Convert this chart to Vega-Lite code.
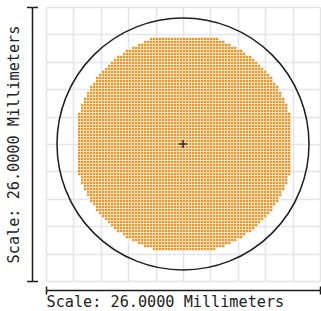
{
  "$schema": "https://vega.github.io/schema/vega-lite/v6.json",
  "width": 274,
  "height": 274,
  "autosize": {"type": "none"},
  "padding": {"left": 46, "top": 7, "right": 1, "bottom": 30},
  "background": "white",
  "config": {
    "view": {"stroke": null},
    "axis": {"labels": false, "titleFont": "DejaVu Sans Mono", "titleFontSize": 15.2, "titleFontWeight": "normal", "titleColor": "#222222"}
  },
  "datasets": {
    "rows": [
      {"y": 35, "x1": -11, "x2": 12}, {"y": 34, "x1": -13, "x2": 14}, {"y": 33, "x1": -15, "x2": 16}, {"y": 32, "x1": -17, "x2": 18},
      {"y": 31, "x1": -19, "x2": 20}, {"y": 30, "x1": -20, "x2": 21}, {"y": 29, "x1": -22, "x2": 23}, {"y": 28, "x1": -23, "x2": 24},
      {"y": 27, "x1": -24, "x2": 25}, {"y": 26, "x1": -25, "x2": 26}, {"y": 25, "x1": -26, "x2": 27}, {"y": 24, "x1": -27, "x2": 28},
      {"y": 23, "x1": -28, "x2": 29}, {"y": 22, "x1": -29, "x2": 30}, {"y": 21, "x1": -29, "x2": 30}, {"y": 20, "x1": -30, "x2": 31},
      {"y": 19, "x1": -31, "x2": 32}, {"y": 18, "x1": -31, "x2": 32}, {"y": 17, "x1": -32, "x2": 33}, {"y": 16, "x1": -32, "x2": 33},
      {"y": 15, "x1": -33, "x2": 34}, {"y": 14, "x1": -33, "x2": 34}, {"y": 13, "x1": -34, "x2": 35}, {"y": 12, "x1": -34, "x2": 35},
      {"y": 11, "x1": -34, "x2": 35}, {"y": 10, "x1": -35, "x2": 36}, {"y": 9, "x1": -35, "x2": 36}, {"y": 8, "x1": -35, "x2": 36},
      {"y": 7, "x1": -35, "x2": 36}, {"y": 6, "x1": -35, "x2": 36}, {"y": 5, "x1": -35, "x2": 36}, {"y": 4, "x1": -35, "x2": 36},
      {"y": 3, "x1": -35, "x2": 36}, {"y": 2, "x1": -35, "x2": 36}, {"y": 1, "x1": -35, "x2": 36}, {"y": 0, "x1": -35, "x2": 36},
      {"y": -1, "x1": -35, "x2": 36}, {"y": -2, "x1": -35, "x2": 36}, {"y": -3, "x1": -35, "x2": 36}, {"y": -4, "x1": -35, "x2": 36},
      {"y": -5, "x1": -35, "x2": 36}, {"y": -6, "x1": -35, "x2": 36}, {"y": -7, "x1": -35, "x2": 36}, {"y": -8, "x1": -35, "x2": 36},
      {"y": -9, "x1": -35, "x2": 36}, {"y": -10, "x1": -35, "x2": 36}, {"y": -11, "x1": -34, "x2": 35}, {"y": -12, "x1": -34, "x2": 35},
      {"y": -13, "x1": -34, "x2": 35}, {"y": -14, "x1": -33, "x2": 34}, {"y": -15, "x1": -33, "x2": 34}, {"y": -16, "x1": -32, "x2": 33},
      {"y": -17, "x1": -32, "x2": 33}, {"y": -18, "x1": -31, "x2": 32}, {"y": -19, "x1": -31, "x2": 32}, {"y": -20, "x1": -30, "x2": 31},
      {"y": -21, "x1": -29, "x2": 30}, {"y": -22, "x1": -29, "x2": 30}, {"y": -23, "x1": -28, "x2": 29}, {"y": -24, "x1": -27, "x2": 28},
      {"y": -25, "x1": -26, "x2": 27}, {"y": -26, "x1": -25, "x2": 26}, {"y": -27, "x1": -24, "x2": 25}, {"y": -28, "x1": -23, "x2": 24},
      {"y": -29, "x1": -22, "x2": 23}, {"y": -30, "x1": -20, "x2": 21}, {"y": -31, "x1": -19, "x2": 20}, {"y": -32, "x1": -17, "x2": 18},
      {"y": -33, "x1": -15, "x2": 16}, {"y": -34, "x1": -13, "x2": 14}, {"y": -35, "x1": -10, "x2": 11}
    ],
    "center": [{"x": 0, "y": 0}]
  },
  "layer": [
    {
      "data": {"name": "rows"},
      "mark": {"type": "rule", "strokeWidth": 3, "color": "#fbdcaa"},
      "encoding": {
        "x": {"field": "x1", "type": "quantitative",
              "scale": {"domain": [-45.6667, 45.6667], "nice": false, "zero": false},
              "axis": {"orient": "bottom", "grid": true, "domain": false, "ticks": false, "title": null,
                       "values": [-45.6667, -36.5333, -27.4, -18.2667, -9.1333, 0, 9.1333, 18.2667, 27.4, 36.5333, 45.6667],
                       "gridColor": "#e4e4e4", "gridWidth": 1.5}},
        "x2": {"field": "x2"},
        "y": {"field": "y", "type": "quantitative",
              "scale": {"domain": [-45.6667, 45.6667], "nice": false, "zero": false},
              "axis": {"orient": "left", "grid": true, "domain": false, "ticks": false, "title": null,
                       "values": [-45.6667, -36.5333, -27.4, -18.2667, -9.1333, 0, 9.1333, 18.2667, 27.4, 36.5333, 45.6667],
                       "gridColor": "#e4e4e4", "gridWidth": 1.5}}
      }
    },
    {
      "data": {"name": "rows"},
      "mark": {"type": "rule", "strokeWidth": 2, "strokeDash": [2, 1], "color": "#f0922e"},
      "encoding": {
        "x": {"field": "x1", "type": "quantitative",
              "axis": {"orient": "bottom", "offset": 9, "grid": false, "domain": true, "domainColor": "#1a1a1a", "domainWidth": 1.5,
                       "ticks": true, "tickSize": 4, "tickColor": "#1a1a1a", "tickWidth": 1.5, "values": [-45.6667, 45.6667],
                       "title": "Scale: 26.0000 Millimeters", "titleAnchor": "start", "titlePadding": 0}},
        "x2": {"field": "x2"},
        "y": {"field": "y", "type": "quantitative",
              "axis": {"orient": "left", "offset": 14, "grid": false, "domain": true, "domainColor": "#1a1a1a", "domainWidth": 1.5,
                       "ticks": true, "tickSize": 5.5, "tickColor": "#1a1a1a", "tickWidth": 1.5, "values": [-45.6667, 45.6667],
                       "title": "Scale: 26.0000 Millimeters", "titlePadding": 4}}
      }
    },
    {
      "data": {"name": "center"},
      "mark": {"type": "point", "shape": "circle", "filled": false, "size": 63504, "stroke": "#1e1e1e", "strokeWidth": 1.5, "opacity": 1},
      "encoding": {
        "x": {"field": "x", "type": "quantitative",
              "axis": {"orient": "bottom", "offset": 9, "grid": false, "domain": false, "ticks": true, "tickSize": -4,
                       "tickColor": "#1a1a1a", "tickWidth": 1.5, "values": [-45.6667, 45.6667], "title": null}},
        "y": {"field": "y", "type": "quantitative",
              "axis": {"orient": "left", "offset": 14, "grid": false, "domain": false, "ticks": true, "tickSize": -5.5,
                       "tickColor": "#1a1a1a", "tickWidth": 1.5, "values": [-45.6667, 45.6667], "title": null}}
      }
    },
    {
      "data": {"name": "center"},
      "mark": {"type": "point", "shape": "M-1,0H1M0,-1V1", "filled": false, "size": 64, "stroke": "#2a2a2a", "strokeWidth": 1.5, "opacity": 1},
      "encoding": {
        "x": {"field": "x", "type": "quantitative", "axis": null},
        "y": {"field": "y", "type": "quantitative", "axis": null}
      }
    }
  ],
  "resolve": {"axis": {"x": "independent", "y": "independent"}}
}
